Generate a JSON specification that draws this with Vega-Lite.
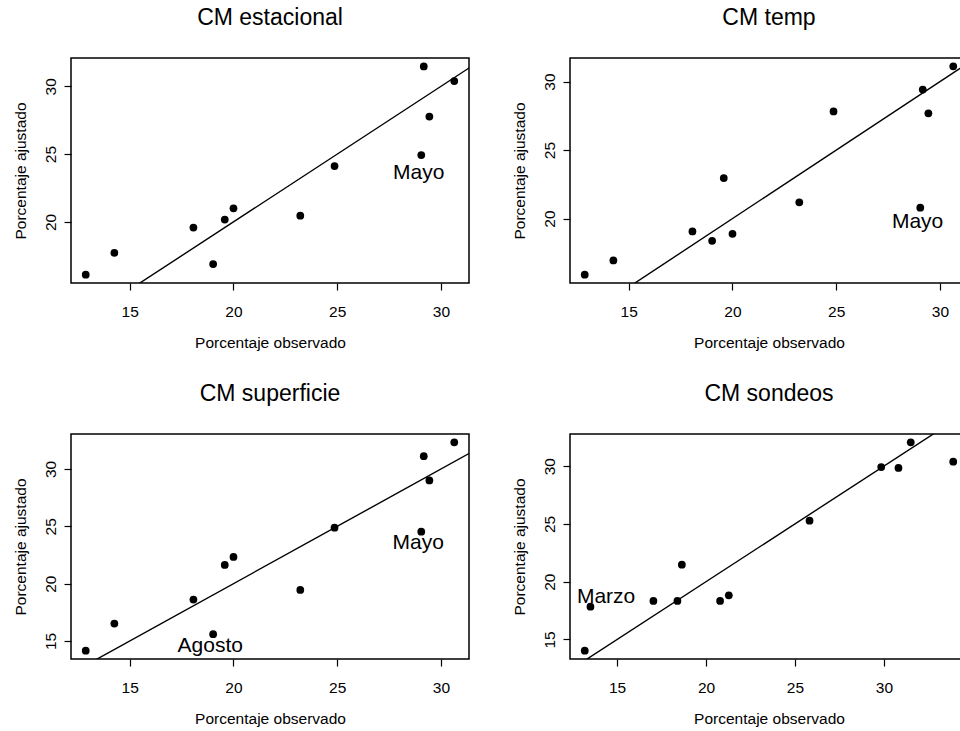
{
  "$schema": "https://vega.github.io/schema/vega-lite/v6.json",
  "padding": {"left": 12, "top": 6, "right": 0, "bottom": 0},
  "background": "white",
  "config": {
    "font": "Liberation Sans",
    "view": {"stroke": "black", "strokeWidth": 1.5},
    "axis": {
      "grid": false,
      "domain": false,
      "tickColor": "black",
      "tickSize": 7,
      "tickWidth": 1.2,
      "labelColor": "black",
      "labelFont": "Liberation Sans",
      "labelFontSize": 15.5,
      "titleFont": "Liberation Sans",
      "titleFontSize": 15.5,
      "titleFontWeight": "normal",
      "titleColor": "black"
    },
    "axisX": {"labelPadding": 21, "labelBaseline": "middle", "titleY": 59, "titleBaseline": "middle"},
    "axisY": {"labelAngle": -90, "labelAlign": "center", "labelBaseline": "middle", "labelPadding": 14, "titleX": -51, "titleBaseline": "middle", "titleAngle": -90},
    "title": {"font": "Liberation Sans", "fontSize": 23, "fontWeight": "normal", "color": "black", "frame": "group", "anchor": "middle", "baseline": "alphabetic", "offset": 28}
  },
  "datasets": {
    "pts": [
      {"panel": "est", "obs": 12.88, "fit": 16.10},
      {"panel": "est", "obs": 14.26, "fit": 17.72},
      {"panel": "est", "obs": 18.07, "fit": 19.58},
      {"panel": "est", "obs": 19.02, "fit": 16.89},
      {"panel": "est", "obs": 19.58, "fit": 20.17},
      {"panel": "est", "obs": 20.00, "fit": 21.00},
      {"panel": "est", "obs": 23.22, "fit": 20.46},
      {"panel": "est", "obs": 24.87, "fit": 24.12},
      {"panel": "est", "obs": 29.05, "fit": 24.93},
      {"panel": "est", "obs": 29.17, "fit": 31.47},
      {"panel": "est", "obs": 29.44, "fit": 27.77},
      {"panel": "est", "obs": 30.64, "fit": 30.39},
      {"panel": "temp", "obs": 12.88, "fit": 15.91},
      {"panel": "temp", "obs": 14.26, "fit": 16.95},
      {"panel": "temp", "obs": 18.07, "fit": 19.06},
      {"panel": "temp", "obs": 19.02, "fit": 18.38},
      {"panel": "temp", "obs": 19.58, "fit": 22.96},
      {"panel": "temp", "obs": 20.00, "fit": 18.89},
      {"panel": "temp", "obs": 23.22, "fit": 21.19},
      {"panel": "temp", "obs": 24.87, "fit": 27.82},
      {"panel": "temp", "obs": 29.05, "fit": 20.80},
      {"panel": "temp", "obs": 29.17, "fit": 29.42},
      {"panel": "temp", "obs": 29.44, "fit": 27.68},
      {"panel": "temp", "obs": 30.64, "fit": 31.11},
      {"panel": "sup", "obs": 12.88, "fit": 14.16},
      {"panel": "sup", "obs": 14.26, "fit": 16.52},
      {"panel": "sup", "obs": 18.07, "fit": 18.61},
      {"panel": "sup", "obs": 19.02, "fit": 15.59},
      {"panel": "sup", "obs": 19.58, "fit": 21.63},
      {"panel": "sup", "obs": 20.00, "fit": 22.33},
      {"panel": "sup", "obs": 23.22, "fit": 19.45},
      {"panel": "sup", "obs": 24.87, "fit": 24.88},
      {"panel": "sup", "obs": 29.05, "fit": 24.53},
      {"panel": "sup", "obs": 29.17, "fit": 31.12},
      {"panel": "sup", "obs": 29.44, "fit": 29.00},
      {"panel": "sup", "obs": 30.64, "fit": 32.32},
      {"panel": "son", "obs": 13.18, "fit": 14.03},
      {"panel": "son", "obs": 13.50, "fit": 17.84},
      {"panel": "son", "obs": 17.04, "fit": 18.33},
      {"panel": "son", "obs": 18.39, "fit": 18.33},
      {"panel": "son", "obs": 18.64, "fit": 21.47},
      {"panel": "son", "obs": 20.79, "fit": 18.33},
      {"panel": "son", "obs": 21.28, "fit": 18.82},
      {"panel": "son", "obs": 25.82, "fit": 25.28},
      {"panel": "son", "obs": 29.85, "fit": 29.92},
      {"panel": "son", "obs": 30.82, "fit": 29.84},
      {"panel": "son", "obs": 31.51, "fit": 32.06},
      {"panel": "son", "obs": 33.90, "fit": 30.38}
    ],
    "lbl": [
      {"panel": "est", "label": "Mayo", "obs": 28.93, "fit": 23.62},
      {"panel": "temp", "label": "Mayo", "obs": 28.92, "fit": 19.74},
      {"panel": "sup", "label": "Mayo", "obs": 28.9, "fit": 23.57},
      {"panel": "sup", "label": "Agosto", "obs": 18.88, "fit": 14.6},
      {"panel": "son", "label": "Marzo", "obs": 14.38, "fit": 18.65}
    ],
    "ref": [{"v": 0}, {"v": 50}]
  },
  "bounds": "flush",
  "columns": 2,
  "spacing": {"row": 151, "column": 101},
  "concat": [
    {
      "title": "CM estacional",
      "width": 398, "height": 225,
      "layer": [
        {
          "data": {"name": "ref"},
          "mark": {"type": "line", "color": "black", "strokeWidth": 1.4, "clip": true},
          "encoding": {
            "x": {"field": "v", "type": "quantitative", "scale": {"domain": [12.17, 31.35], "nice": false, "zero": false}, "axis": {"values": [15, 20, 25, 30], "title": "Porcentaje observado"}},
            "y": {"field": "v", "type": "quantitative", "scale": {"domain": [15.49, 32.09], "nice": false, "zero": false}, "axis": {"values": [20, 25, 30], "title": "Porcentaje ajustado"}}
          }
        },
        {
          "data": {"name": "pts"},
          "transform": [{"filter": "datum.panel === 'est'"}],
          "mark": {"type": "circle", "color": "black", "opacity": 1, "size": 60},
          "encoding": {"x": {"field": "obs", "type": "quantitative"}, "y": {"field": "fit", "type": "quantitative"}}
        },
        {
          "data": {"name": "lbl"},
          "transform": [{"filter": "datum.panel === 'est'"}],
          "mark": {"type": "text", "color": "black", "fontSize": 21, "align": "center", "baseline": "middle", "font": "Liberation Sans"},
          "encoding": {"x": {"field": "obs", "type": "quantitative"}, "y": {"field": "fit", "type": "quantitative"}, "text": {"field": "label"}}
        }
      ]
    },
    {
      "title": "CM temp",
      "width": 398, "height": 225,
      "layer": [
        {
          "data": {"name": "ref"},
          "mark": {"type": "line", "color": "black", "strokeWidth": 1.4, "clip": true},
          "encoding": {
            "x": {"field": "v", "type": "quantitative", "scale": {"domain": [12.17, 31.35], "nice": false, "zero": false}, "axis": {"values": [15, 20, 25, 30], "title": "Porcentaje observado"}},
            "y": {"field": "v", "type": "quantitative", "scale": {"domain": [15.30, 31.72], "nice": false, "zero": false}, "axis": {"values": [20, 25, 30], "title": "Porcentaje ajustado"}}
          }
        },
        {
          "data": {"name": "pts"},
          "transform": [{"filter": "datum.panel === 'temp'"}],
          "mark": {"type": "circle", "color": "black", "opacity": 1, "size": 60},
          "encoding": {"x": {"field": "obs", "type": "quantitative"}, "y": {"field": "fit", "type": "quantitative"}}
        },
        {
          "data": {"name": "lbl"},
          "transform": [{"filter": "datum.panel === 'temp'"}],
          "mark": {"type": "text", "color": "black", "fontSize": 21, "align": "center", "baseline": "middle", "font": "Liberation Sans"},
          "encoding": {"x": {"field": "obs", "type": "quantitative"}, "y": {"field": "fit", "type": "quantitative"}, "text": {"field": "label"}}
        }
      ]
    },
    {
      "title": "CM superficie",
      "width": 398, "height": 225,
      "layer": [
        {
          "data": {"name": "ref"},
          "mark": {"type": "line", "color": "black", "strokeWidth": 1.4, "clip": true},
          "encoding": {
            "x": {"field": "v", "type": "quantitative", "scale": {"domain": [12.17, 31.35], "nice": false, "zero": false}, "axis": {"values": [15, 20, 25, 30], "title": "Porcentaje observado"}},
            "y": {"field": "v", "type": "quantitative", "scale": {"domain": [13.43, 33.05], "nice": false, "zero": false}, "axis": {"values": [15, 20, 25, 30], "title": "Porcentaje ajustado"}}
          }
        },
        {
          "data": {"name": "pts"},
          "transform": [{"filter": "datum.panel === 'sup'"}],
          "mark": {"type": "circle", "color": "black", "opacity": 1, "size": 60},
          "encoding": {"x": {"field": "obs", "type": "quantitative"}, "y": {"field": "fit", "type": "quantitative"}}
        },
        {
          "data": {"name": "lbl"},
          "transform": [{"filter": "datum.panel === 'sup'"}],
          "mark": {"type": "text", "color": "black", "fontSize": 21, "align": "center", "baseline": "middle", "font": "Liberation Sans"},
          "encoding": {"x": {"field": "obs", "type": "quantitative"}, "y": {"field": "fit", "type": "quantitative"}, "text": {"field": "label"}}
        }
      ]
    },
    {
      "title": "CM sondeos",
      "width": 398, "height": 225,
      "layer": [
        {
          "data": {"name": "ref"},
          "mark": {"type": "line", "color": "black", "strokeWidth": 1.4, "clip": true},
          "encoding": {
            "x": {"field": "v", "type": "quantitative", "scale": {"domain": [12.35, 34.73], "nice": false, "zero": false}, "axis": {"values": [15, 20, 25, 30], "title": "Porcentaje observado"}},
            "y": {"field": "v", "type": "quantitative", "scale": {"domain": [13.31, 32.78], "nice": false, "zero": false}, "axis": {"values": [15, 20, 25, 30], "title": "Porcentaje ajustado"}}
          }
        },
        {
          "data": {"name": "pts"},
          "transform": [{"filter": "datum.panel === 'son'"}],
          "mark": {"type": "circle", "color": "black", "opacity": 1, "size": 60},
          "encoding": {"x": {"field": "obs", "type": "quantitative"}, "y": {"field": "fit", "type": "quantitative"}}
        },
        {
          "data": {"name": "lbl"},
          "transform": [{"filter": "datum.panel === 'son'"}],
          "mark": {"type": "text", "color": "black", "fontSize": 21, "align": "center", "baseline": "middle", "font": "Liberation Sans"},
          "encoding": {"x": {"field": "obs", "type": "quantitative"}, "y": {"field": "fit", "type": "quantitative"}, "text": {"field": "label"}}
        }
      ]
    }
  ]
}
